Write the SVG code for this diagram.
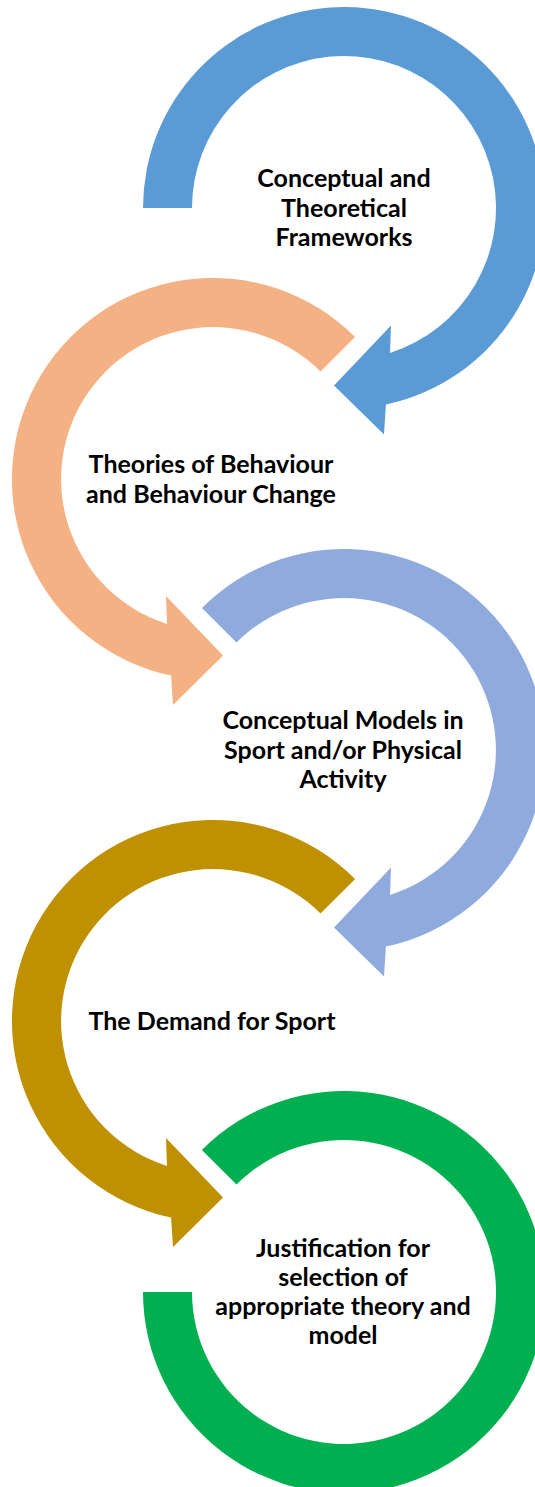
<svg xmlns="http://www.w3.org/2000/svg" width="535" height="1487" viewBox="0 0 535 1487">
<style>
.lbl{font-family:Lato,"Open Sans","Liberation Sans",sans-serif;font-weight:bold;font-size:25px;fill:#000;text-anchor:middle}
</style>
<rect width="535" height="1487" fill="#ffffff"/>
<g id="connectors"></g>
<g id="node1">
<path fill="#5B9BD5" d="M 143 208 A 201 201 0 1 1 385.9 404.6 L 384 434.5 L 334 385.5 L 391 325.5 L 390 352.9 A 152 152 0 1 0 192 208 Z"/>
<text class="lbl" x="344" y="187">Conceptual and</text>
<text class="lbl" x="344" y="216.5">Theoretical</text>
<text class="lbl" x="344" y="246">Frameworks</text>
</g>
<g id="node2">
<path fill="#F4B183" d="M 355.1 336.9 A 201 201 0 1 0 171.1 675.6 L 173 705 L 223 655.5 L 166 596 L 167 623.9 A 152 152 0 1 1 320.5 371.5 Z"/>
<text class="lbl" x="211" y="473">Theories of Behaviour</text>
<text class="lbl" x="211" y="502.5">and Behaviour Change</text>
</g>
<g id="node3">
<path fill="#8FAADC" d="M 201.9 607.9 A 201 201 0 1 1 385.9 946.6 L 384 976.5 L 334 927.5 L 391 867.5 L 390 894.9 A 152 152 0 1 0 236.5 642.5 Z"/>
<text class="lbl" x="343" y="729">Conceptual Models in</text>
<text class="lbl" x="343" y="758.5">Sport and/or Physical</text>
<text class="lbl" x="343" y="787.5">Activity</text>
</g>
<g id="node4">
<path fill="#BF9000" d="M 355.1 878.9 A 201 201 0 1 0 171.1 1217.6 L 173 1247 L 223 1197.5 L 166 1138 L 167 1165.9 A 152 152 0 1 1 320.5 913.5 Z"/>
<text class="lbl" x="212" y="1030">The Demand for Sport</text>
</g>
<g id="node5">
<path fill="#00B050" d="M 201.9 1149.9 A 201 201 0 1 1 143 1292 L 192 1292 A 152 152 0 1 0 236.5 1184.5 Z"/>
<text class="lbl" x="343" y="1257">Justification for</text>
<text class="lbl" x="343" y="1286">selection of</text>
<text class="lbl" x="343" y="1315">appropriate theory and</text>
<text class="lbl" x="343" y="1344">model</text>
</g>
</svg>
